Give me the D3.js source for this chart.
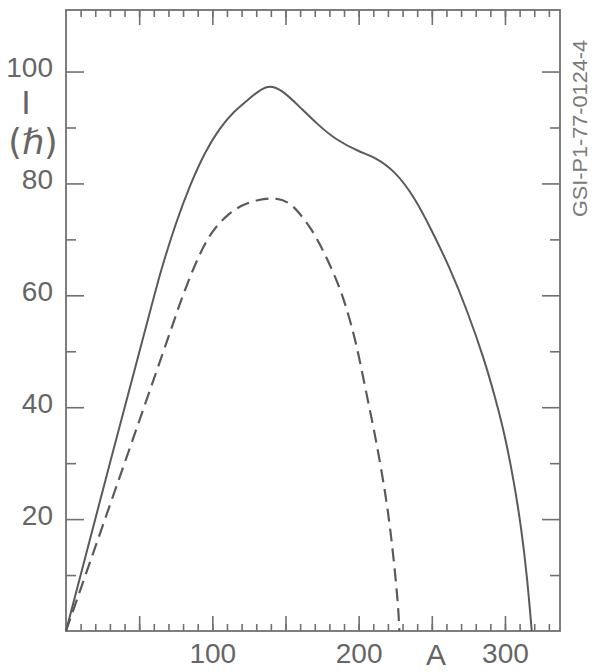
<!DOCTYPE html>
<html>
<head>
<meta charset="utf-8">
<script src="https://cdn.jsdelivr.net/npm/d3@7"></script>
<style>
  html, body { margin: 0; padding: 0; background: #fff; }
  svg { display: block; }
  text { font-family: "Liberation Sans", Arial, sans-serif; fill: #666; }
</style>
</head>
<body>
<script>
// Angular momentum limit I (in units of hbar) versus mass number A
const massFull  = [0, 30, 55, 65, 75, 85, 95, 105, 115, 125, 137, 148, 160, 172, 185, 200, 212, 225, 238, 250, 262, 274, 285, 293, 300, 306, 311, 315, 318.3];
const spinFull  = [0, 30, 54.7, 64.4, 72.7, 79.7, 85.4, 89.7, 92.8, 95.1, 97.2, 96.4, 93.6, 90.6, 87.9, 85.8, 84.4, 81.8, 77.3, 71.5, 64.9, 57.2, 49.0, 41.9, 34.6, 26.6, 18.3, 9.5, 0];

const massDash  = [0, 40, 71, 78, 85, 92, 100, 110, 120, 131, 142, 152, 160, 168, 176, 184, 190, 195, 200, 206, 212, 218, 222, 225, 227, 227.8];
const spinDash  = [0, 30, 53.3, 58.6, 63.4, 67.6, 71.3, 74.2, 76.0, 77.0, 77.3, 76.5, 74.5, 71.6, 67.8, 63.2, 59.0, 54.6, 49.2, 41.6, 33.8, 24.8, 17.2, 10.0, 4.0, 0];

const xMinorTicks = d3.range(10, 331, 10);
const xMajorTicks = [50, 100, 150, 200, 250, 300];
const xLabelTicks = [100, 200, 300];
const yMinorTicks = [10, 30, 50, 70, 90];
const yMajorTicks = [20, 40, 60, 80, 100];
const xTitle = "A";
const yTitleTop = "I";
const yTitleUnit = "(\u210F)";
const plateId = "GSI-P1-77-0124-4";

const W = 592, H = 672;
const padL = 66, padR = 560, padT = 10, padB = 631;

const x = d3.scaleLinear().domain([0, 337.6]).range([padL, padR]);
const y = d3.scaleLinear().domain([0, 111]).range([padB, padT]);

const svg = d3.select("body").append("svg").attr("width", W).attr("height", H);

const ink = "#5a5a5a";
const axisInk = "#707070";

function styleAxis(g) {
  g.select(".domain").remove();
  g.selectAll(".tick line").attr("stroke", axisInk).attr("stroke-width", 1.6);
}

// inward ticks on all four sides
svg.append("g").attr("transform", `translate(0,${padB})`)
  .call(d3.axisBottom(x).tickValues(xMinorTicks).tickSize(-7).tickFormat("")).call(styleAxis);
svg.append("g").attr("transform", `translate(0,${padB})`)
  .call(d3.axisBottom(x).tickValues(xMajorTicks).tickSize(-15).tickFormat("")).call(styleAxis);
svg.append("g").attr("transform", `translate(0,${padT})`)
  .call(d3.axisTop(x).tickValues(xMinorTicks).tickSize(-7).tickFormat("")).call(styleAxis);
svg.append("g").attr("transform", `translate(0,${padT})`)
  .call(d3.axisTop(x).tickValues(xMajorTicks).tickSize(-15).tickFormat("")).call(styleAxis);

svg.append("g").attr("transform", `translate(${padL},0)`)
  .call(d3.axisLeft(y).tickValues(yMinorTicks).tickSize(-10).tickFormat("")).call(styleAxis);
svg.append("g").attr("transform", `translate(${padL},0)`)
  .call(d3.axisLeft(y).tickValues(yMajorTicks).tickSize(-18).tickFormat("")).call(styleAxis);
svg.append("g").attr("transform", `translate(${padR},0)`)
  .call(d3.axisRight(y).tickValues(yMinorTicks).tickSize(-10).tickFormat("")).call(styleAxis);
svg.append("g").attr("transform", `translate(${padR},0)`)
  .call(d3.axisRight(y).tickValues(yMajorTicks).tickSize(-18).tickFormat("")).call(styleAxis);

// frame
svg.append("rect")
  .attr("x", padL).attr("y", padT)
  .attr("width", padR - padL).attr("height", padB - padT)
  .attr("fill", "none").attr("stroke", axisInk).attr("stroke-width", 1.8);

// tick labels
const xLab = svg.append("g").attr("transform", `translate(0,${padB})`)
  .call(d3.axisBottom(x).tickValues(xLabelTicks).tickSize(0).tickPadding(0).tickFormat(d3.format("d")));
xLab.select(".domain").remove();
xLab.selectAll("text")
  .attr("y", 32).attr("dy", null)
  .style("font-size", "28px").style("font-family", "'Liberation Sans', Arial, sans-serif")
  .attr("fill", "#666");

const yLab = svg.append("g").attr("transform", `translate(${padL},0)`)
  .call(d3.axisLeft(y).tickValues(yMajorTicks).tickSize(0).tickPadding(0).tickFormat(d3.format("d")));
yLab.select(".domain").remove();
yLab.selectAll("text")
  .attr("x", -13).attr("dy", "0.18em")
  .style("font-size", "28px").style("font-family", "'Liberation Sans', Arial, sans-serif")
  .attr("fill", "#666");

// axis titles
svg.append("text").attr("x", 436).attr("y", 665)
  .attr("text-anchor", "middle").style("font-size", "30px").text(xTitle);
svg.append("text").attr("x", 26).attr("y", 114)
  .attr("text-anchor", "middle").style("font-size", "34px").text(yTitleTop);
svg.append("text").attr("x", 33).attr("y", 154)
  .attr("text-anchor", "middle")
  .style("font-family", "'DejaVu Sans', sans-serif").style("font-size", "35px")
  .text(yTitleUnit);

// plate identifier along the right edge
svg.append("text")
  .attr("transform", "translate(587,128.5) rotate(-90)")
  .attr("text-anchor", "middle")
  .attr("textLength", 177).attr("lengthAdjust", "spacingAndGlyphs")
  .style("font-size", "20px").style("fill", "#7a7a7a")
  .text(plateId);

const line = d3.line()
  .x(d => x(d[0]))
  .y(d => y(d[1]))
  .curve(d3.curveNatural);

const fullPts = massFull.map((a, i) => [a, spinFull[i]]);
const dashPts = massDash.map((a, i) => [a, spinDash[i]]);

svg.append("path").datum(fullPts)
  .attr("d", line)
  .attr("fill", "none").attr("stroke", ink).attr("stroke-width", 2);

svg.append("path").datum(dashPts)
  .attr("d", line)
  .attr("fill", "none").attr("stroke", ink).attr("stroke-width", 2.2)
  .attr("stroke-dasharray", "13,7");
</script>
</body>
</html>
